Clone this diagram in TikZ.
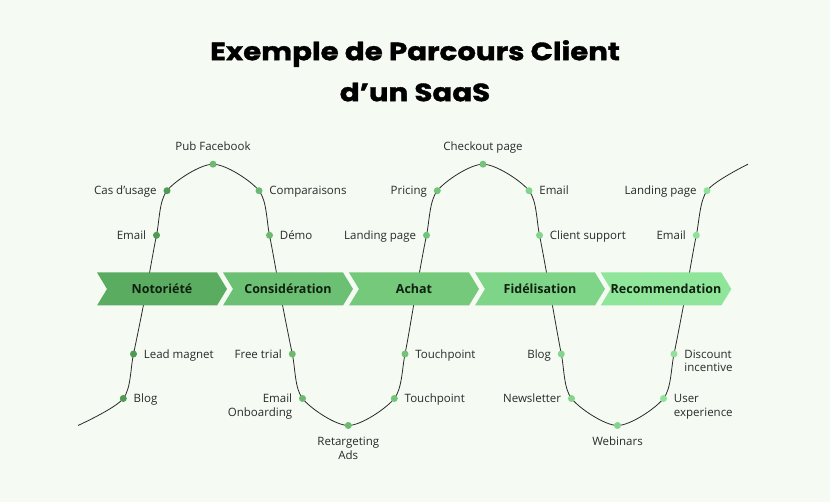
\documentclass[tikz,border=0pt]{standalone}
\usepackage{fontspec}
\setmainfont{Open Sans}
\newfontfamily\titlefont{Poppins}[BoldFeatures={FakeBold=1.4, FakeStretch=1.17}]
\usetikzlibrary{positioning,shapes.symbols}

\definecolor{bg}{HTML}{F5FAF3}
\definecolor{ink}{HTML}{2A2A2A}
\definecolor{stageink}{HTML}{102010}
\definecolor{st1}{HTML}{5AAD60}
\definecolor{st2}{HTML}{6CC073}
\definecolor{st3}{HTML}{74C97B}
\definecolor{st4}{HTML}{7ED487}
\definecolor{st5}{HTML}{8FE599}
\definecolor{dt1}{HTML}{4E9C54}
\definecolor{dt2}{HTML}{6BBA70}
\definecolor{dt3}{HTML}{72C479}
\definecolor{dt4}{HTML}{82D58A}
\definecolor{dt5}{HTML}{90E29A}

\begin{document}
\begin{tikzpicture}[
    x=1pt, y=1pt,
    dot/.style={circle, fill=#1, inner sep=0pt, minimum size=7pt},
    lbl/.style={text=ink, inner sep=1pt, font=\fontsize{11.5}{13.5}\selectfont,
                text height=10pt, text depth=1.8pt},
    lbltwo/.style={text=ink, inner sep=1pt, font=\fontsize{11.5}{13.5}\selectfont},
    stage/.style={signal, signal to=east, signal from=west, signal pointer angle=117.6,
                  fill=#1, minimum width=130pt, minimum height=33pt, inner sep=0pt,
                  text=stageink, font=\fontsize{12.5}{15}\selectfont\bfseries},
    wave/.style={draw=ink, line width=0.8pt},
]
\fill[bg] (0,0) rectangle (830,502);

\node[font=\titlefont\bfseries\fontsize{25}{41}\selectfont, align=center,
      anchor=north, inner sep=0pt] (title) at (415,462)
      {Exemple de Parcours Client\\d’un SaaS};

% points on the wave
\coordinate (s)        at (78,76.5);
\coordinate (blog)     at (123.3,103.5);
\coordinate (lead)     at (133.5,148);
\coordinate (m1)       at (145.5,207.3);
\coordinate (mail1)    at (156.5,266.7);
\coordinate (cas)      at (167,311.3);
\coordinate (pub)      at (213,337.8);
\coordinate (comp)     at (259,311.3);
\coordinate (demo)     at (269.5,266.7);
\coordinate (m2)       at (280.5,207.3);
\coordinate (trial)    at (292.3,148);
\coordinate (onb)      at (302.5,103.5);
\coordinate (ads)      at (348.3,76.5);
\coordinate (tp1)      at (394.3,103.5);
\coordinate (tp2)      at (405,148);
\coordinate (m3)       at (415.5,207.3);
\coordinate (land1)    at (426.5,266.7);
\coordinate (pricing)  at (437.3,311.3);
\coordinate (checkout) at (483,337.8);
\coordinate (mail2)    at (529,311.3);
\coordinate (support)  at (539.5,266.7);
\coordinate (m4)       at (550.5,207.3);
\coordinate (blog2)    at (561.3,148);
\coordinate (news)     at (571.5,103.5);
\coordinate (webi)     at (617.5,76.5);
\coordinate (ux)       at (663.5,103.5);
\coordinate (disc)     at (674,148);
\coordinate (m5)       at (685.5,207.3);
\coordinate (mail3)    at (696.3,266.7);
\coordinate (land2)    at (707,311.3);
\coordinate (e)        at (748,337.8);

\draw[wave] plot[smooth] coordinates {(s) (blog) (lead) (m1) (mail1) (cas) (pub)
    (comp) (demo) (m2) (trial) (onb) (ads) (tp1) (tp2) (m3) (land1) (pricing)
    (checkout) (mail2) (support) (m4) (blog2) (news) (webi) (ux) (disc) (m5)
    (mail3) (land2) (e)};

% stages
\node[stage=st1] (noto)  at (162,213) {Notoriété};
\node[stage=st2] (consi) at (288,213) {Considération};
\node[stage=st3] (achat) at (414,213) {Achat};
\node[stage=st4] (fide)  at (540,213) {Fidélisation};
\node[stage=st5] (reco)  at (666,213) {Recommendation};

% touchpoints
\foreach \p/\c in {blog/dt1, lead/dt1, mail1/dt1, cas/dt1, pub/dt2, comp/dt2,
    demo/dt2, trial/dt2, onb/dt2, ads/dt2, tp1/dt3, tp2/dt3, land1/dt3,
    pricing/dt3, checkout/dt3, mail2/dt4, support/dt4, blog2/dt4, news/dt4,
    webi/dt4, ux/dt5, disc/dt5, mail3/dt5, land2/dt5} {
    \node[dot=\c] (d-\p) at (\p) {};
}

\node[lbl, right=5.5pt of d-blog]     (l-blog)     {Blog};
\node[lbl, right=5.5pt of d-lead]     (l-lead)     {Lead magnet};
\node[lbl, left=5.5pt of d-mail1]     (l-mail1)    {Email};
\node[lbl, left=5.5pt of d-cas]       (l-cas)      {Cas d’usage};
\node[lbl, above=6.5pt of d-pub]      (l-pub)      {Pub Facebook};
\node[lbl, right=5.5pt of d-comp]     (l-comp)     {Comparaisons};
\node[lbl, right=5.5pt of d-demo]     (l-demo)     {Démo};
\node[lbl, left=5.5pt of d-trial]     (l-trial)    {Free trial};
\node[lbltwo, align=right, anchor=north east] (l-onb)
     at ([xshift=-5.5pt, yshift=5.7pt]d-onb.west) {Email\\Onboarding};
\node[lbltwo, align=center, below=7pt of d-ads] (l-ads) {Retargeting\\Ads};
\node[lbl, right=5.5pt of d-tp1]      (l-tp1)      {Touchpoint};
\node[lbl, right=5.5pt of d-tp2]      (l-tp2)      {Touchpoint};
\node[lbl, left=5.5pt of d-land1]     (l-land1)    {Landing page};
\node[lbl, left=5.5pt of d-pricing]   (l-pricing)  {Pricing};
\node[lbl, above=6.5pt of d-checkout] (l-checkout) {Checkout page};
\node[lbl, right=5.5pt of d-mail2]    (l-mail2)    {Email};
\node[lbl, right=5.5pt of d-support]  (l-support)  {Client support};
\node[lbl, left=5.5pt of d-blog2]     (l-blog2)    {Blog};
\node[lbl, left=5.5pt of d-news]      (l-news)     {Newsletter};
\node[lbl, below=5.3pt of d-webi]     (l-webi)     {Webinars};
\node[lbltwo, align=left, anchor=north west] (l-ux)
     at ([xshift=5.5pt, yshift=5.3pt]d-ux.east) {User\\experience};
\node[lbltwo, align=left, anchor=north west] (l-disc)
     at ([xshift=5.5pt, yshift=5.3pt]d-disc.east) {Discount\\incentive};
\node[lbl, left=5.5pt of d-mail3]     (l-mail3)    {Email};
\node[lbl, left=5.5pt of d-land2]     (l-land2)    {Landing page};
\end{tikzpicture}
\end{document}
